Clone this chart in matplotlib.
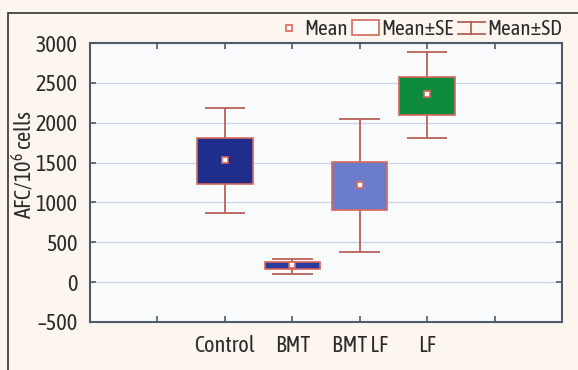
import matplotlib.pyplot as plt
from matplotlib.patches import Rectangle, Patch
from matplotlib.lines import Line2D
from matplotlib.legend_handler import HandlerBase

# data
groups = ['Control', 'BMT', 'BMT LF', 'LF']
means = [1530, 210, 1215, 2360]
se_low = [1228, 160, 902, 2103]
se_high = [1812, 250, 1512, 2578]
sd_low = [870, 100, 378, 1809]
sd_high = [2182, 290, 2045, 2885]
box_colors = ['#1e2d8a', '#2a3a9c', '#6c7ccc', '#0e8a3c']

font = ['Asap Condensed', 'Barlow Semi Condensed', 'DejaVu Sans']
plt.rcParams['font.family'] = font
plt.rcParams['mathtext.fontset'] = 'custom'
plt.rcParams['mathtext.rm'] = 'Asap Condensed'

txt = '#2b2b2b'
spine = '#4d5b6b'
edge = '#d8675a'
whisk = '#b8615a'


class HandlerSD(HandlerBase):
    # small I-beam symbol for the Mean±SD entry
    def create_artists(self, legend, orig, xd, yd, w, h, fs, trans):
        cx = xd + w / 2
        y0, y1 = yd + 0.1 * h, yd + 0.9 * h
        lines = [Line2D([cx, cx], [y0, y1]),
                 Line2D([xd, xd + w], [y0, y0]),
                 Line2D([xd, xd + w], [y1, y1])]
        for ln in lines:
            ln.set_color(whisk)
            ln.set_linewidth(1.3)
            ln.set_transform(trans)
        return lines


fig = plt.figure(figsize=(5.78, 3.70), dpi=100, facecolor='#fdf6ee')
ax = fig.add_axes([90 / 578, 1 - 322 / 370, 472 / 578, 279 / 370])
ax.set_facecolor('#fafbfd')

# outer frame
fig.patches.append(Rectangle((8 / 578, -0.05), 1.1, 1 - 13 / 370 + 0.05,
                             transform=fig.transFigure, fill=False,
                             edgecolor='#333333', lw=1.2))

xs = [2, 3, 4, 5]
ax.vlines(xs, sd_low, sd_high, color=whisk, lw=1.3, zorder=2)
ax.hlines(sd_low, [x - 0.3 for x in xs], [x + 0.3 for x in xs], color=whisk, lw=1.3, zorder=2)
ax.hlines(sd_high, [x - 0.3 for x in xs], [x + 0.3 for x in xs], color=whisk, lw=1.3, zorder=2)
heights = [h - l for h, l in zip(se_high, se_low)]
ax.bar(xs, heights, bottom=se_low, width=0.82, color=box_colors,
       edgecolor=edge, lw=1.2, zorder=3)
ax.plot(xs, means, ls='none', marker='s', ms=5, mfc='white', mec=edge, mew=1.2, zorder=4)

ax.set_xlim(0, 7)
ax.set_ylim(-500, 3000)
ax.set_yticks(range(-500, 3001, 500))
ax.set_yticklabels(['\u2013500'] + [str(v) for v in range(0, 3001, 500)])
ax.set_xticks([1, 2, 3, 4, 5, 6])
ax.set_xticklabels([''] + groups + [''])
ax.yaxis.grid(True, color='#c6d6e6', lw=0.9)
ax.set_axisbelow(True)
ax.tick_params(direction='in', length=4, width=1.2, color=spine,
               top=True, right=True, labelsize=16, labelcolor=txt)
ax.tick_params(axis='y', pad=9)
ax.tick_params(axis='x', pad=9)
for s in ax.spines.values():
    s.set_color(spine)
    s.set_linewidth(1.5)

ax.set_ylabel('AFC/10$^6$ cells', fontsize=16, color=txt)
ax.yaxis.set_label_coords(-0.112, 0.565)

# legend above the plot
h_mean = Line2D([], [], ls='none', marker='s', ms=5, mfc='white', mec=edge, mew=1.2)
h_se = Patch(facecolor='white', edgecolor=edge, lw=1.2)
h_sd = Line2D([], [])
fig.legend([h_mean, h_se, h_sd], ['Mean', 'Mean\u00b1SE', 'Mean\u00b1SD'],
           handler_map={h_sd: HandlerSD()},
           ncol=3, loc='center right', bbox_to_anchor=(0.99, 1 - 29 / 370),
           frameon=False, fontsize=15, handlelength=1.3, handletextpad=0.1,
           columnspacing=0.2, labelcolor=txt, borderpad=0)

fig.savefig('out.png', dpi=100, facecolor=fig.get_facecolor())
